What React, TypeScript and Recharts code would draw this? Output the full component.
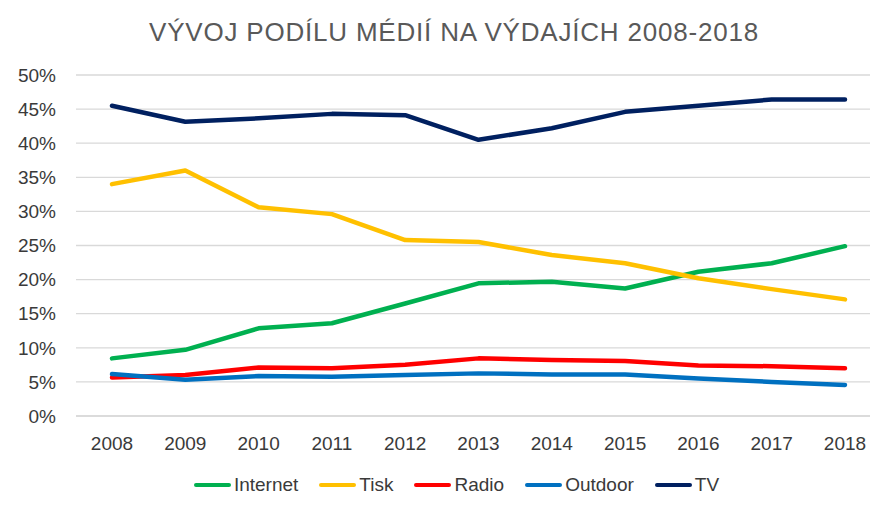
import React from 'react';
import { LineChart, Line, XAxis, YAxis, CartesianGrid, Legend } from 'recharts';

const years = ['2008', '2009', '2010', '2011', '2012', '2013', '2014', '2015', '2016', '2017', '2018'];
const internet = [8.45, 9.7, 12.85, 13.6, 16.5, 19.45, 19.7, 18.7, 21.15, 22.4, 24.9];
const tisk = [34.0, 36.0, 30.6, 29.6, 25.8, 25.5, 23.6, 22.4, 20.2, 18.6, 17.1];
const radio = [5.65, 6.0, 7.1, 7.0, 7.5, 8.45, 8.2, 8.05, 7.4, 7.3, 7.0];
const outdoor = [6.15, 5.3, 5.85, 5.75, 6.0, 6.25, 6.1, 6.1, 5.5, 5.0, 4.55];
const tv = [45.5, 43.15, 43.65, 44.3, 44.1, 40.5, 42.2, 44.6, 45.5, 46.4, 46.4];
const yTicks = [0, 5, 10, 15, 20, 25, 30, 35, 40, 45, 50];

const seriesList = [
  { key: 'Internet', values: internet, color: '#00B050' },
  { key: 'Tisk', values: tisk, color: '#FFC000' },
  { key: 'Radio', values: radio, color: '#FF0000' },
  { key: 'Outdoor', values: outdoor, color: '#0070C0' },
  { key: 'TV', values: tv, color: '#002060' },
];

const data = years.map((y, i) => {
  const row: Record<string, string | number> = { year: y };
  seriesList.forEach((s) => {
    row[s.key] = s.values[i];
  });
  return row;
});

const FONT = '"Liberation Sans", Arial, sans-serif';
const TEXT = '#3a3a3a';

const LegendContent = () => (
  <div
    style={{
      display: 'flex',
      justifyContent: 'center',
      alignItems: 'center',
      paddingLeft: 43,
      height: 30,
      fontFamily: FONT,
      fontSize: 19,
      color: TEXT,
    }}
  >
    {seriesList.map((s, i) => (
      <div key={s.key} style={{ display: 'flex', alignItems: 'center', marginLeft: i === 0 ? 0 : 21 }}>
        <div style={{ width: 37, height: 4.5, borderRadius: 3, background: s.color, marginRight: 3 }} />
        <span>{s.key}</span>
      </div>
    ))}
  </div>
);

export default function App() {
  return (
    <div style={{ position: 'absolute', left: 0, top: 0, width: 870, height: 508, background: '#fff' }}>
      <svg width={870} height={60} style={{ position: 'absolute', left: 0, top: 0 }}>
        <text
          x={454}
          y={41}
          textAnchor="middle"
          fontFamily={FONT}
          fontSize={26}
          letterSpacing={0.8}
          fill="#595959"
        >
          VÝVOJ PODÍLU MÉDIÍ NA VÝDAJÍCH 2008-2018
        </text>
      </svg>
      <div style={{ position: 'absolute', left: 0, top: 0 }}>
        <LineChart width={870} height={508} data={data} margin={{ top: 75, right: 0, left: 16, bottom: 8 }}>
          <CartesianGrid vertical={false} stroke="#D9D9D9" strokeWidth={1.3} />
          <XAxis
            dataKey="year"
            scale="point"
            padding={{ left: 36, right: 25 }}
            height={54}
            tickLine={false}
            tickSize={0}
            tickMargin={21}
            axisLine={{ stroke: '#D9D9D9', strokeWidth: 1.3 }}
            tick={{ fill: TEXT, fontSize: 19, fontFamily: FONT }}
            interval={0}
          />
          <YAxis
            domain={[0, 50]}
            ticks={yTicks}
            width={60}
            tickLine={false}
            tickSize={0}
            tickMargin={20}
            axisLine={false}
            tickFormatter={(v: number) => `${v}%`}
            tick={{ fill: TEXT, fontSize: 19, fontFamily: FONT }}
            interval={0}
          />
          <Legend verticalAlign="bottom" height={30} wrapperStyle={{ left: 0, width: 870 }} content={<LegendContent />} />
          {seriesList.map((s) => (
            <Line
              key={s.key}
              type="linear"
              dataKey={s.key}
              stroke={s.color}
              strokeWidth={4.5}
              strokeLinecap="round"
              strokeLinejoin="round"
              dot={false}
              activeDot={false}
              isAnimationActive={false}
            />
          ))}
        </LineChart>
      </div>
    </div>
  );
}
